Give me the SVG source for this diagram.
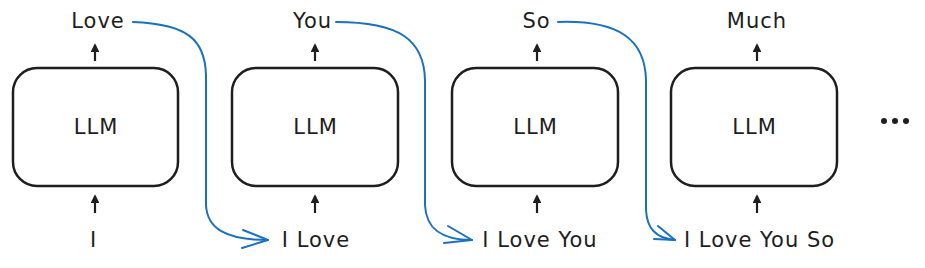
<svg xmlns="http://www.w3.org/2000/svg" width="925" height="268" viewBox="0 0 925 268">
<style>
.box{fill:#fff;stroke:#1e1e1e;stroke-width:2.5}
.t{font-family:"DejaVu Sans",sans-serif;font-size:21px;letter-spacing:1px;fill:#1e1e1e;text-anchor:middle}
.up{stroke:#1e1e1e;stroke-width:2.2;fill:none;marker-end:url(#ah)}
.flow{stroke:#1971c2;stroke-width:2;fill:none;stroke-linecap:round;stroke-linejoin:round}
</style>
<defs>
<marker id="ah" viewBox="0 0 10 10" refX="8" refY="5" markerWidth="4" markerHeight="4" orient="auto" markerUnits="strokeWidth">
<path d="M0,0 L10,5 L0,10 Z" fill="#1e1e1e"/>
</marker>
</defs>
<rect width="925" height="268" fill="#fff"/>
<g id="llm1">
<rect class="box" x="13" y="68" width="165" height="118" rx="24"/>
<text class="t" x="96" y="134">LLM</text>
</g>
<g id="llm2">
<rect class="box" x="232" y="68" width="166" height="118" rx="24"/>
<text class="t" x="315.5" y="134">LLM</text>
</g>
<g id="llm3">
<rect class="box" x="452" y="68" width="166" height="118" rx="24"/>
<text class="t" x="535.5" y="134">LLM</text>
</g>
<g id="llm4">
<rect class="box" x="671" y="68" width="166" height="118" rx="24"/>
<text class="t" x="754.5" y="134">LLM</text>
</g>
<g id="out1"><text class="t" x="98" y="28">Love</text></g>
<g id="out2"><text class="t" x="312.5" y="28">You</text></g>
<g id="out3"><text class="t" x="536.5" y="28">So</text></g>
<g id="out4"><text class="t" x="757" y="28">Much</text></g>
<g id="in1"><text class="t" x="93.5" y="247">I</text></g>
<g id="in2"><text class="t" x="316" y="247">I Love</text></g>
<g id="in3"><text class="t" x="540" y="247">I Love You</text></g>
<g id="in4"><text class="t" x="759.5" y="247">I Love You So</text></g>
<g id="ellipsis" fill="#1e1e1e">
<circle cx="884" cy="121" r="3"/>
<circle cx="895" cy="121" r="3"/>
<circle cx="906" cy="121" r="3"/>
</g>
<g id="connectors">
<path class="up" d="M95,61 L95,45"/>
<path class="up" d="M95,213 L95,196"/>
<path class="up" d="M315,61 L315,45"/>
<path class="up" d="M315,213 L315,196"/>
<path class="up" d="M537,61 L537,45"/>
<path class="up" d="M537,213 L537,196"/>
<path class="up" d="M757,61 L757,45"/>
<path class="up" d="M757,213 L757,196"/>
<path class="flow" d="M133,22 C188,24 205,40 206,75 L206,205 C207,228 225,240 268,240"/>
<path class="flow" d="M243,230 L268,240 L242,248"/>
<path class="flow" d="M336,22 C400,22 424,40 425,80 L425,205 C426,228 440,240 472,240"/>
<path class="flow" d="M448,226 L472,240 L444,243"/>
<path class="flow" d="M558,22 C620,20 645,40 646,80 L646,210 C647,228 655,238 675,240"/>
<path class="flow" d="M658,226 L675,240 L654,239"/>
</g>
</svg>
